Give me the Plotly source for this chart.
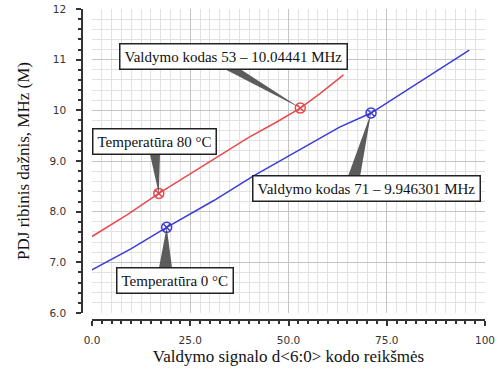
import plotly.graph_objects as go

# ---- data ----
red_codes = [0, 9, 17, 25, 33, 40, 47, 53, 58, 64]
red_freq = [7.51, 7.94, 8.36, 8.75, 9.13, 9.47, 9.77, 10.04441, 10.33, 10.70]

blue_codes = [0, 10, 19, 31, 41, 52, 63, 71, 78, 87, 96]
blue_freq = [6.85, 7.27, 7.69, 8.22, 8.70, 9.19, 9.67, 9.946301, 10.29, 10.74, 11.19]

x_tickvals = [0, 25, 50, 75, 100]
x_ticktext = ["0.0", "25.0", "50.0", "75.0", "100"]
y_tickvals = [6, 7, 8, 9, 10, 11, 12]
y_ticktext = ["6.0", "7.0", "8.0", "9.0", "10", "11", "12"]

# highlighted points (index into the series)
red_marks = [2, 7]
blue_marks = [2, 7]

RED = "#e84a4d"
BLUE = "#3b3bd6"
SERIF = "Liberation Serif, DejaVu Serif, serif"

fig = go.Figure()
fig.add_trace(go.Scatter(x=red_codes, y=red_freq, mode="lines",
                         line=dict(color=RED, width=1.5), showlegend=False))
fig.add_trace(go.Scatter(x=blue_codes, y=blue_freq, mode="lines",
                         line=dict(color=BLUE, width=1.5), showlegend=False))
fig.add_trace(go.Scatter(x=[red_codes[i] for i in red_marks], y=[red_freq[i] for i in red_marks],
                         mode="markers", marker=dict(symbol="circle-x-open", size=10, color=RED,
                                                     line=dict(width=1.5)), showlegend=False))
fig.add_trace(go.Scatter(x=[blue_codes[i] for i in blue_marks], y=[blue_freq[i] for i in blue_marks],
                         mode="markers", marker=dict(symbol="circle-x-open", size=10, color=BLUE,
                                                     line=dict(width=1.5)), showlegend=False))

# callouts: (text, box centre, wedge base x-range, wedge base y, tip point)
callouts = [
    ("Valdymo kodas 53 – 10.04441 MHz", (36.1, 11.06), (33.1, 37.2), 10.84,
     (red_codes[red_marks[1]], red_freq[red_marks[1]])),
    ("Temperatūra 80 °C", (15.9, 9.38), (14.8, 17.3), 9.12,
     (red_codes[red_marks[0]], red_freq[red_marks[0]])),
    ("Valdymo kodas 71 – 9.946301 MHz", (69.8, 8.45), (65.1, 68.2), 8.69,
     (blue_codes[blue_marks[1]], blue_freq[blue_marks[1]])),
    ("Temperatūra 0 °C", (21.1, 6.65), (17.0, 20.4), 6.87,
     (blue_codes[blue_marks[0]], blue_freq[blue_marks[0]])),
]
for text, (cx, cy), (b0, b1), by, (tx, ty) in callouts:
    fig.add_shape(type="path", xref="x", yref="y",
                  path=f"M {b0},{by} L {b1},{by} L {tx},{ty} Z",
                  fillcolor="#4a4a4a", line=dict(width=0), opacity=0.9, layer="above")
    fig.add_annotation(x=cx, y=cy, xref="x", yref="y", text=text, showarrow=False,
                       font=dict(family=SERIF, size=15, color="#111"),
                       bgcolor="white", bordercolor="#222", borderwidth=1.5, borderpad=4)

tickfont = dict(family="DejaVu Sans, sans-serif", size=10.5, color="#333")

fig.update_layout(
    width=498, height=375,
    margin=dict(l=0, r=0, t=0, b=0),
    paper_bgcolor="white", plot_bgcolor="white",
    xaxis=dict(range=[0, 100], domain=[92/498, 485/498], anchor="free", position=55/375,
               showline=True, linecolor="#333", linewidth=1.5, ticks="outside", ticklen=5,
               tickcolor="#333", tickwidth=1.5,
               tickvals=x_tickvals, ticktext=x_ticktext, tickfont=tickfont,
               ticklabelstandoff=6,
               showgrid=True, gridcolor="#c4c4c4", gridwidth=1, zeroline=False,
               minor=dict(dtick=2.5, ticks="outside", ticklen=3, tickcolor="#333",
                          showgrid=True, gridcolor="#e2e2e2"),
               title=dict(text="Valdymo signalo d&lt;6:0&gt; kodo reikšmės",
                          font=dict(family=SERIF, size=17, color="#111"), standoff=4),
               automargin=False),
    yaxis=dict(range=[6, 12], domain=[62/375, 366/375], anchor="free", position=82/498,
               showline=True, linecolor="#333", linewidth=1.5, ticks="outside", ticklen=5,
               tickcolor="#333", tickwidth=1.5,
               tickvals=y_tickvals, ticktext=y_ticktext, tickfont=tickfont,
               ticklabelstandoff=8,
               showgrid=True, gridcolor="#c4c4c4", gridwidth=1, zeroline=False,
               minor=dict(dtick=0.2, ticks="outside", ticklen=3, tickcolor="#333",
                          showgrid=True, gridcolor="#e2e2e2"),
               title=dict(text="PDJ ribinis dažnis, MHz (M)",
                          font=dict(family=SERIF, size=17, color="#111"), standoff=14),
               automargin=False),
)

fig.write_html("out.html")
